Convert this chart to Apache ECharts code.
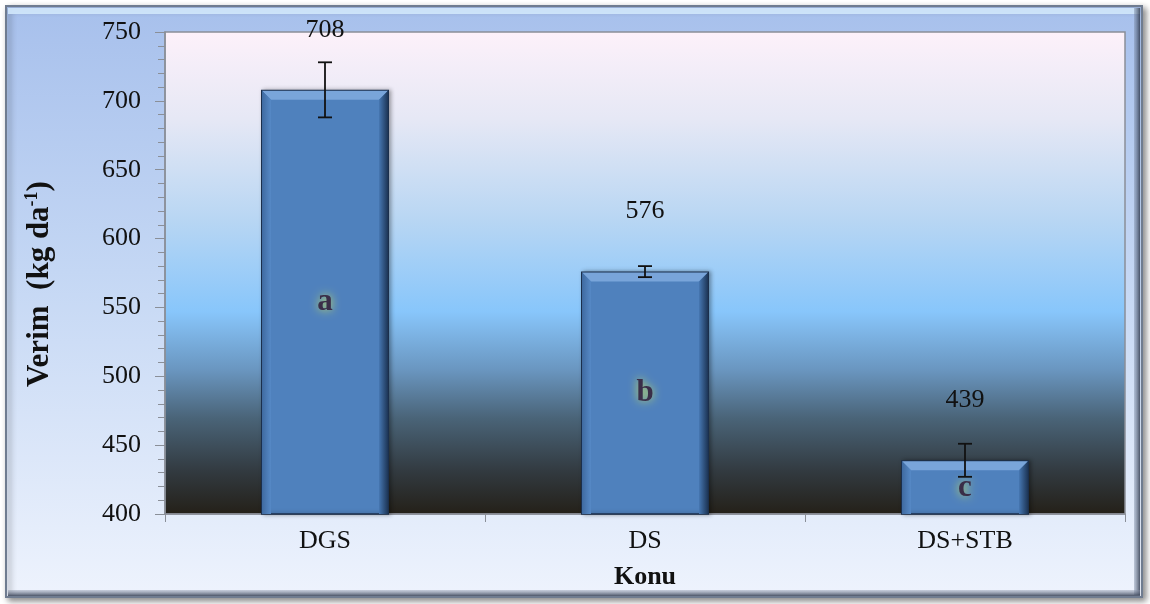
<!DOCTYPE html>
<html>
<head>
<meta charset="utf-8">
<script src="https://cdn.jsdelivr.net/npm/echarts@6/dist/echarts.min.js"></script>
<style>
html,body{margin:0;padding:0;background:#fff;}
#c{width:1150px;height:604px;}
</style>
</head>
<body>
<div id="c"></div>
<script>
const categories = ['DGS', 'DS', 'DS+STB'];
const values = [708, 576, 439];
const errors = [20, 4, 12];
const letters = ['a', 'b', 'c'];
const yTicks = { min: 400, max: 750, interval: 50 };

const FONT = '"Liberation Serif", "Times New Roman", serif';
const chart = echarts.init(document.getElementById('c'), null, { renderer: 'canvas' });

const customData = categories.map((c, i) => [i, values[i], errors[i]]);

const option = {
  backgroundColor: '#ffffff',
  animation: false,
  graphic: [
    {
      type: 'rect', z: -10, silent: true,
      shape: { x: 6, y: 6, width: 1136, height: 591 },
      style: {
        fill: new echarts.graphic.LinearGradient(0, 0, 0, 1, [
          { offset: 0, color: '#a7c0ec' },
          { offset: 0.45, color: '#c4d7f4' },
          { offset: 1, color: '#eef3fd' }
        ]),
        stroke: '#6f7c90', lineWidth: 2,
        shadowColor: 'rgba(0,0,0,0.45)', shadowBlur: 6, shadowOffsetX: 3, shadowOffsetY: 3
      }
    },
    {
      type: 'rect', z: -9, silent: true,
      shape: { x: 8, y: 8, width: 1132, height: 6 },
      style: { fill: 'rgba(210,232,252,0.9)' }
    },
    {
      type: 'rect', z: -9, silent: true,
      shape: { x: 1134, y: 8, width: 6, height: 587 },
      style: {
        fill: new echarts.graphic.LinearGradient(0, 0, 1, 0, [
          { offset: 0, color: 'rgba(120,135,160,0.4)' },
          { offset: 1, color: 'rgba(40,50,70,0.8)' }
        ])
      }
    },
    {
      type: 'rect', z: -9, silent: true,
      shape: { x: 8, y: 590, width: 1132, height: 6 },
      style: {
        fill: new echarts.graphic.LinearGradient(0, 0, 0, 1, [
          { offset: 0, color: 'rgba(140,150,170,0.4)' },
          { offset: 1, color: 'rgba(50,60,80,0.85)' }
        ])
      }
    }
  ],
  grid: {
    left: 165, right: 25, top: 32, bottom: 90,
    show: true,
    borderColor: '#8a8f98', borderWidth: 1.5,
    backgroundColor: new echarts.graphic.LinearGradient(0, 0, 0, 1, [
      { offset: 0, color: '#fdf1fa' },
      { offset: 0.18, color: '#e6e8f5' },
      { offset: 0.39, color: '#b8d6f3' },
      { offset: 0.58, color: '#88c6fb' },
      { offset: 0.70, color: '#6a96c0' },
      { offset: 0.80, color: '#4a6478' },
      { offset: 0.91, color: '#323a40' },
      { offset: 1, color: '#242018' }
    ])
  },
  xAxis: {
    type: 'category',
    data: categories,
    name: 'Konu',
    nameLocation: 'middle',
    nameGap: 50,
    nameTextStyle: { fontFamily: FONT, fontSize: 26, fontWeight: 'bold', color: '#111' },
    axisLine: { lineStyle: { color: '#8a8f98', width: 1.5 } },
    axisTick: { show: true, length: 8, lineStyle: { color: '#8a8f98' } },
    axisLabel: { fontFamily: FONT, fontSize: 26, color: '#111', margin: 14 }
  },
  yAxis: {
    type: 'value',
    min: yTicks.min, max: yTicks.max, interval: yTicks.interval,
    name: '{b|Verim  (kg da}{sup|-1}{b|)}',
    nameLocation: 'middle',
    nameGap: 110,
    nameRotate: 90,
    nameTextStyle: {
      padding: [0, 22, 0, 0],
      rich: {
        b: { fontFamily: FONT, fontSize: 31, fontWeight: 'bold', color: '#111', verticalAlign: 'bottom', lineHeight: 32 },
        sup: { fontFamily: FONT, fontSize: 18, fontWeight: 'bold', color: '#111', verticalAlign: 'top', padding: [0, 0, 14, 0], lineHeight: 32 }
      }
    },
    axisLine: { show: true, lineStyle: { color: '#8a8f98', width: 1.5 } },
    axisTick: { show: true, inside: false, length: 10, lineStyle: { color: '#8a8f98' } },
    minorTick: { show: true, splitNumber: 5, length: 7, lineStyle: { color: '#8a8f98' } },
    splitLine: { show: false },
    axisLabel: { fontFamily: FONT, fontSize: 26, color: '#111', margin: 24 }
  },
  series: [
    {
      type: 'bar',
      data: values,
      barWidth: '40%',
      itemStyle: {
        color: '#4f81bd',
        borderColor: '#1b2f4c',
        borderWidth: 1.5,
        shadowColor: 'rgba(0,0,0,0.35)', shadowBlur: 4, shadowOffsetX: 2
      },
      label: {
        show: true,
        position: 'inside',
        formatter: (p) => letters[p.dataIndex],
        fontFamily: FONT, fontSize: 31, fontWeight: 'bold', color: '#3a2e48',
        textShadowColor: '#c9e35c', textShadowBlur: 10
      },
      z: 2
    },
    {
      type: 'custom',
      data: customData,
      encode: { x: 0, y: 1 },
      z: 3,
      renderItem: function (params, api) {
        const i = api.value(0);
        const v = api.value(1);
        const e = api.value(2);
        const top = api.coord([i, v]);
        const base = api.coord([i, yTicks.min]);
        const eTop = api.coord([i, v + e]);
        const eBot = api.coord([i, v - e]);
        const w = api.size([1, 0])[0] * 0.4;
        const x0 = top[0] - w / 2 + 1, x1 = top[0] + w / 2 - 1;
        const y0 = top[1] + 1, yb = base[1];
        const b = 9;
        const cap = 7;
        return {
          type: 'group',
          children: [
            { type: 'polygon', shape: { points: [[x0, y0], [x1, y0], [x1 - b, y0 + b], [x0 + b, y0 + b]] },
              style: { fill: '#79a5da' } },
            { type: 'polygon', shape: { points: [[x0, y0], [x0 + b, y0 + b], [x0 + b, yb], [x0, yb]] },
              style: { fill: new echarts.graphic.LinearGradient(0, 0, 1, 0, [
                { offset: 0, color: '#3f6aa0' }, { offset: 1, color: '#5689c6' }]) } },
            { type: 'polygon', shape: { points: [[x1, y0], [x1, yb], [x1 - b, yb], [x1 - b, y0 + b]] },
              style: { fill: new echarts.graphic.LinearGradient(0, 0, 1, 0, [
                { offset: 0, color: '#4677b2' }, { offset: 1, color: '#1d3556' }]) } },
            { type: 'line', shape: { x1: top[0], y1: eTop[1], x2: top[0], y2: eBot[1] },
              style: { stroke: '#111', lineWidth: 1.8 } },
            { type: 'line', shape: { x1: top[0] - cap, y1: eTop[1], x2: top[0] + cap, y2: eTop[1] },
              style: { stroke: '#111', lineWidth: 1.8 } },
            { type: 'line', shape: { x1: top[0] - cap, y1: eBot[1], x2: top[0] + cap, y2: eBot[1] },
              style: { stroke: '#111', lineWidth: 1.8 } },
            { type: 'text', x: top[0], y: top[1] - 60,
              style: { text: String(v), fontFamily: FONT, fontSize: 26, fill: '#111',
                align: 'center', verticalAlign: 'middle' } }
          ]
        };
      }
    }
  ]
};
chart.setOption(option);
</script>
</body>
</html>
